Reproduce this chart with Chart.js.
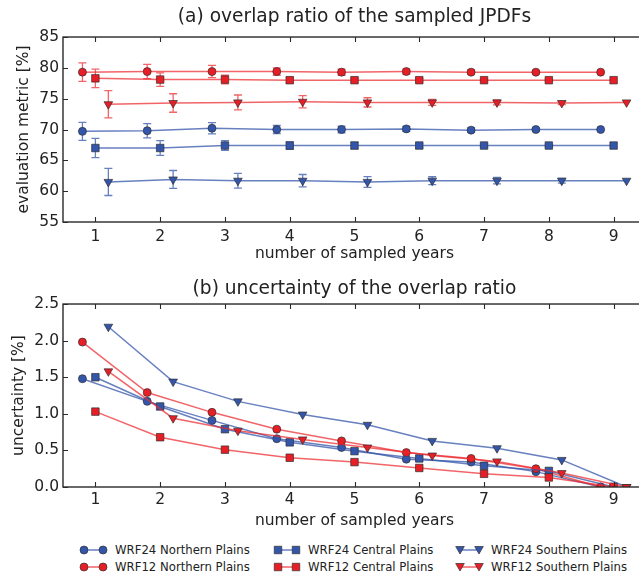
<!DOCTYPE html>
<html><head><meta charset="utf-8">
<script src="https://cdn.jsdelivr.net/npm/chart.js@4.4.1/dist/chart.umd.min.js"></script>
<style>
html,body{margin:0;padding:0;background:#fff;overflow:hidden;width:639px;height:574px;}
#wrap{position:relative;width:639px;height:574px;overflow:hidden;background:#fff;}
#c1{position:absolute;left:0;top:0;width:660px;height:265px;}
#c2{position:absolute;left:0;top:265px;width:660px;height:270px;}
.lg{position:absolute;font-family:'DejaVu Sans';font-size:11.7px;line-height:14px;color:#222;white-space:nowrap;}
.lm{position:absolute;}
</style></head>
<body><div id="wrap">
<canvas id="c1" width="660" height="265"></canvas>
<canvas id="c2" width="660" height="270"></canvas>
</div>
<script>
// ---------------- data ----------------
const xTicks = [1, 2, 3, 4, 5, 6, 7, 8, 9];
const xNorthern = [0.8, 1.8, 2.8, 3.8, 4.8, 5.8, 6.8, 7.8, 8.8];
const xCentral  = [1, 2, 3, 4, 5, 6, 7, 8, 9];
const xSouthern = [1.2, 2.2, 3.2, 4.2, 5.2, 6.2, 7.2, 8.2, 9.2];
const yTicksA = [55, 60, 65, 70, 75, 80, 85];
const yTicksB = [0, 0.5, 1.0, 1.5, 2.0, 2.5];

const seriesNames = ['WRF24 Northern Plains', 'WRF12 Northern Plains', 'WRF24 Central Plains',
                     'WRF12 Central Plains', 'WRF24 Southern Plains', 'WRF12 Southern Plains'];

// (a) overlap ratio [%] and error bar half-lengths
const ovWRF24N = [69.7, 69.8, 70.2, 70.0, 70.0, 70.1, 69.9, 70.0, 70.0];
const ovWRF12N = [79.3, 79.4, 79.4, 79.4, 79.3, 79.4, 79.3, 79.3, 79.3];
const ovWRF24C = [67.0, 67.0, 67.4, 67.4, 67.4, 67.4, 67.4, 67.4, 67.4];
const ovWRF12C = [78.3, 78.1, 78.1, 78.0, 78.0, 78.0, 78.0, 78.0, 78.0];
const ovWRF24S = [61.5, 61.9, 61.7, 61.7, 61.5, 61.7, 61.7, 61.7, 61.7];
const ovWRF12S = [74.1, 74.3, 74.4, 74.5, 74.4, 74.4, 74.4, 74.3, 74.4];

const erWRF24N = [1.45, 1.15, 0.92, 0.65, 0.55, 0.40, 0.35, 0.22, 0];
const erWRF12N = [1.50, 1.15, 1.00, 0.60, 0.50, 0.40, 0.35, 0.25, 0];
const erWRF24C = [1.55, 1.20, 0.80, 0.60, 0.50, 0.40, 0.28, 0.20, 0];
const erWRF12C = [1.50, 1.10, 0.70, 0.45, 0.35, 0.30, 0.20, 0.15, 0];
const erWRF24S = [2.20, 1.45, 1.20, 1.00, 0.87, 0.64, 0.53, 0.38, 0];
const erWRF12S = [2.20, 1.50, 1.20, 1.00, 0.75, 0.50, 0.40, 0.25, 0];

// (b) uncertainty [%]
const unWRF24N = [1.48, 1.17, 0.91, 0.66, 0.54, 0.38, 0.34, 0.21, 0.0];
const unWRF12N = [1.98, 1.29, 1.02, 0.79, 0.63, 0.47, 0.39, 0.25, 0.0];
const unWRF24C = [1.50, 1.10, 0.79, 0.61, 0.49, 0.39, 0.29, 0.22, 0.0];
const unWRF12C = [1.03, 0.68, 0.51, 0.40, 0.34, 0.26, 0.18, 0.13, 0.0];
const unWRF24S = [2.19, 1.44, 1.17, 0.99, 0.85, 0.63, 0.53, 0.37, 0.0];
const unWRF12S = [1.58, 0.94, 0.77, 0.65, 0.54, 0.43, 0.35, 0.19, 0.0];

// ---------------- styling ----------------
const FONT = 'DejaVu Sans';
const RED = 'rgb(232,30,38)', REDL = 'rgba(236,40,46,0.72)';
const BLUE = 'rgb(52,86,170)', BLUEL = 'rgba(52,86,170,0.75)';
const EDGE = 'rgba(45,45,45,0.85)';
const styles = [
  {xs: xNorthern, fill: BLUE, line: BLUEL, shape: 'circle'},
  {xs: xNorthern, fill: RED,  line: REDL,  shape: 'circle'},
  {xs: xCentral,  fill: BLUE, line: BLUEL, shape: 'rect'},
  {xs: xCentral,  fill: RED,  line: REDL,  shape: 'rect'},
  {xs: xSouthern, fill: BLUE, line: BLUEL, shape: 'triangle'},
  {xs: xSouthern, fill: RED,  line: REDL,  shape: 'triangle'}
];
const shapeRadius = {circle: 4, rect: 5.3, triangle: 5};

function buildDatasets(valueSets, errSets) {
  return valueSets.map((vals, i) => {
    const s = styles[i];
    return {
      label: seriesNames[i],
      data: s.xs.map((x, k) => ({x: x, y: vals[k]})),
      errors: errSets ? errSets[i] : null,
      borderColor: s.line,
      backgroundColor: s.fill,
      borderWidth: 1.5,
      pointStyle: s.shape,
      pointRadius: shapeRadius[s.shape],
      pointRotation: s.shape === 'triangle' ? 180 : 0,
      pointBackgroundColor: s.fill,
      pointBorderColor: EDGE,
      pointBorderWidth: 0.8,
      tension: 0,
      clip: 0,
      order: 5 - i
    };
  });
}

const errorBarPlugin = {
  id: 'errbars',
  beforeDatasetDraw(chart, args) {
    const ds = chart.data.datasets[args.index];
    if (!ds.errors) return;
    const ys = chart.scales.y, ctx = chart.ctx;
    ctx.save();
    ctx.strokeStyle = ds.borderColor;
    ctx.lineWidth = 1.3;
    args.meta.data.forEach((el, k) => {
      const e = ds.errors[k];
      if (!e) return;
      const v = ds.data[k].y;
      const y1 = ys.getPixelForValue(v + e), y2 = ys.getPixelForValue(v - e);
      ctx.beginPath();
      ctx.moveTo(el.x, y1); ctx.lineTo(el.x, y2);
      ctx.moveTo(el.x - 4, y1); ctx.lineTo(el.x + 4, y1);
      ctx.moveTo(el.x - 4, y2); ctx.lineTo(el.x + 4, y2);
      ctx.stroke();
    });
    ctx.restore();
  }
};

const framePlugin = {
  id: 'frame',
  afterDatasetsDraw(chart) {
    const ctx = chart.ctx, a = chart.chartArea, xs = chart.scales.x, ys = chart.scales.y;
    ctx.save();
    ctx.strokeStyle = '#2a2a2a';
    ctx.lineWidth = 1.1;
    ctx.beginPath();
    xs.ticks.forEach(t => {
      const p = Math.round(xs.getPixelForValue(t.value)) + 0.5;
      ctx.moveTo(p, a.bottom); ctx.lineTo(p, a.bottom - 5);
      ctx.moveTo(p, a.top); ctx.lineTo(p, a.top + 5);
    });
    ys.ticks.forEach(t => {
      const p = Math.round(ys.getPixelForValue(t.value)) + 0.5;
      ctx.moveTo(a.left, p); ctx.lineTo(a.left + 5, p);
      ctx.moveTo(a.right, p); ctx.lineTo(a.right - 5, p);
    });
    ctx.stroke();
    ctx.lineWidth = 1.4;
    ctx.strokeRect(a.left, a.top, a.right - a.left, a.bottom - a.top);
    ctx.restore();
  }
};

function makeOptions(c) {
  const tickFont = {family: FONT, size: 15.5};
  return {
    responsive: false, animation: false, events: [],
    layout: {padding: {left: 0, right: 14, top: 0, bottom: 0}},
    plugins: {
      legend: {display: false}, tooltip: {enabled: false},
      title: {display: true, text: c.title, color: '#222', fullSize: false,
              font: {family: FONT, size: 18.6, weight: 'normal'},
              padding: {top: c.tTop, bottom: c.tBot}}
    },
    scales: {
      x: {
        type: 'linear', min: 0.5, max: 9.5,
        grid: {display: false, drawTicks: false}, border: {display: false},
        afterBuildTicks: s => { s.ticks = xTicks.map(v => ({value: v})); },
        afterFit: s => { s.height = c.xh; },
        ticks: {font: tickFont, color: '#222', padding: c.xPad, maxRotation: 0, autoSkip: false,
                callback: v => String(v)},
        title: {display: true, text: 'number of sampled years', color: '#222', font: tickFont,
                padding: {top: 0, bottom: c.xtPad}}
      },
      y: {
        type: 'linear', min: c.yTicks[0], max: c.yTicks[c.yTicks.length - 1],
        grid: {display: false, drawTicks: false}, border: {display: false},
        afterBuildTicks: s => { s.ticks = c.yTicks.map(v => ({value: v})); },
        afterFit: s => { s.width = 63; },
        ticks: {font: tickFont, color: '#222', padding: 4, autoSkip: false,
                callback: v => c.fmt(v)},
        title: {display: true, text: c.ytitle, color: '#222', font: tickFont,
                padding: {top: c.ytPad, bottom: 0}}
      }
    }
  };
}

new Chart(document.getElementById('c1'), {
  type: 'line',
  data: {datasets: buildDatasets(
    [ovWRF24N, ovWRF12N, ovWRF24C, ovWRF12C, ovWRF24S, ovWRF12S],
    [erWRF24N, erWRF12N, erWRF24C, erWRF12C, erWRF24S, erWRF12S])},
  options: makeOptions({title: '(a) overlap ratio of the sampled JPDFs', tTop: 6, tBot: 8.7,
    xh: 43, xPad: 6, xtPad: 1.7, yTicks: yTicksA, fmt: v => String(v),
    ytitle: 'evaluation metric [%]', ytPad: 14.5}),
  plugins: [errorBarPlugin, framePlugin]
});

new Chart(document.getElementById('c2'), {
  type: 'line',
  data: {datasets: buildDatasets(
    [unWRF24N, unWRF12N, unWRF24C, unWRF12C, unWRF24S, unWRF12S], null)},
  options: makeOptions({title: '(b) uncertainty of the overlap ratio', tTop: 12.8, tBot: 3.9,
    xh: 48, xPad: 4, xtPad: 4.7, yTicks: yTicksB, fmt: v => v.toFixed(1),
    ytitle: 'uncertainty [%]', ytPad: 9.3}),
  plugins: [framePlugin]
});

// ---------------- legend (3 columns x 2 rows) ----------------
const legendCols = [
  {m1: 84, m2: 103, tx: 115},
  {m1: 278, m2: 296, tx: 308},
  {m1: 460, m2: 479, tx: 491}
];
const legendRows = [550, 567];
const wrap = document.getElementById('wrap');
function drawMarker(ctx, shape, x, y, fill) {
  ctx.beginPath();
  if (shape === 'circle') ctx.arc(x, y, 4, 0, Math.PI * 2);
  else if (shape === 'rect') ctx.rect(x - 3.75, y - 3.75, 7.5, 7.5);
  else { ctx.moveTo(x - 4.3, y - 3.5); ctx.lineTo(x + 4.3, y - 3.5); ctx.lineTo(x, y + 4); ctx.closePath(); }
  ctx.fillStyle = fill; ctx.fill();
  ctx.lineWidth = 0.8; ctx.strokeStyle = EDGE; ctx.stroke();
}
seriesNames.forEach((name, i) => {
  const col = legendCols[Math.floor(i / 2)], rowY = legendRows[i % 2], s = styles[i];
  const cv = document.createElement('canvas');
  const left = col.m1 - 7;
  cv.width = col.m2 - col.m1 + 14; cv.height = 14;
  cv.className = 'lm';
  cv.style.left = left + 'px'; cv.style.top = (rowY - 7) + 'px';
  wrap.appendChild(cv);
  const ctx = cv.getContext('2d');
  ctx.strokeStyle = s.line; ctx.lineWidth = 1.5;
  ctx.beginPath(); ctx.moveTo(7, 7); ctx.lineTo(7 + col.m2 - col.m1, 7); ctx.stroke();
  drawMarker(ctx, s.shape, 7, 7, s.fill);
  drawMarker(ctx, s.shape, 7 + col.m2 - col.m1, 7, s.fill);
  const sp = document.createElement('div');
  sp.className = 'lg';
  sp.textContent = name;
  sp.style.left = col.tx + 'px'; sp.style.top = (rowY - 7) + 'px';
  wrap.appendChild(sp);
});
</script>
</body></html>
